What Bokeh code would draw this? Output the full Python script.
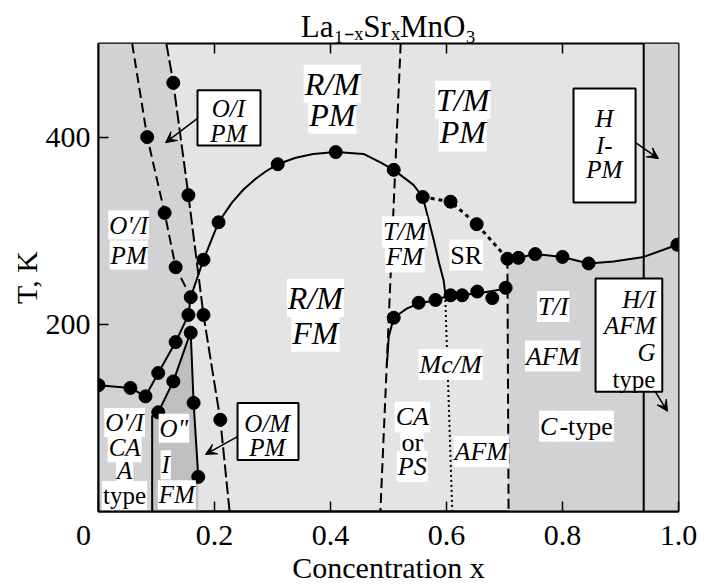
import numpy as np
from bokeh.plotting import figure
from bokeh.models import Range1d, FixedTicker, Label, BoxAnnotation, Arrow, VeeHead
from bokeh.embed import file_html
from bokeh.resources import INLINE

SERIF = "Liberation Serif"

# ---- measured transition points (x = Sr content, T in K) ----
tc_x = [0.0, 0.055, 0.081, 0.103, 0.133, 0.155, 0.159, 0.181, 0.207, 0.309, 0.409, 0.509, 0.559]
tc_T = [135, 132, 123, 148, 181, 210, 229, 269, 309, 371, 384, 365, 336]
o2_pts_x = [0.103, 0.129, 0.159, 0.164, 0.172]
o2_pts_T = [106, 139, 191, 116, 37]
jt_pts_x = [0.084, 0.114, 0.133]
jt_pts_T = [400, 319, 261]
oo_pts_x = [0.129, 0.155, 0.181, 0.210]
oo_pts_T = [458, 338, 210, 98]
sr_pts_x = [0.607, 0.652, 0.705]
sr_pts_T = [331, 307, 270]
tn_pts_x = [0.724, 0.753, 0.800, 0.845, 0.998]
tn_pts_T = [271, 275, 272, 265, 285]
afm_pts_x = [0.509, 0.552, 0.581, 0.607, 0.627, 0.653, 0.679, 0.702]
afm_pts_T = [207, 223, 226, 231, 231, 235, 228, 239]

# ---- phase boundary lines ----
tc_line_x = [0.0, 0.055, 0.081, 0.103, 0.133, 0.155, 0.159, 0.181, 0.207, 0.23, 0.25, 0.27, 0.29,
             0.309, 0.34, 0.37, 0.409, 0.457, 0.486, 0.509, 0.543, 0.559, 0.567, 0.578, 0.587,
             0.595, 0.598]
tc_line_T = [135, 132, 123, 148, 181, 210, 229, 269, 309, 330, 344, 355, 364,
             371, 378, 382, 384, 382, 373, 365, 349, 336, 317, 290, 266,
             247, 233]
o2_line_x = [0.0925, 0.0925, 0.103, 0.129, 0.155, 0.159]
o2_line_T = [0, 102, 106, 139, 185, 191]
o2_edge_x = [0.159, 0.164, 0.172]
o2_edge_T = [191, 116, 37]
jt_line_x = [0.058, 0.084, 0.114, 0.133, 0.159]
jt_line_T = [500, 400, 319, 261, 229]
oo_line_x = [0.117, 0.129, 0.155, 0.181, 0.210, 0.226]
oo_line_T = [500, 458, 338, 210, 98, 0]
rt_line_x = [0.521, 0.486]
rt_line_T = [500, 0]
sr_line_x = [0.559, 0.607, 0.652, 0.705]
sr_line_T = [336, 331, 307, 270]
tn_line_x = [0.705, 0.724, 0.753, 0.800, 0.845, 0.888, 0.94, 0.998]
tn_line_T = [270, 271, 275, 272, 265, 267, 272, 285]
afm_line_x = [0.497, 0.5005, 0.509, 0.532, 0.552, 0.581, 0.601, 0.653, 0.702]
afm_line_T = [155, 187, 207, 217, 222, 226, 230, 233, 238]
mc_line_x = [0.598, 0.610]
mc_line_T = [226, 0]
ct_line_x = [0.705, 0.707]
ct_line_T = [270, 0]
hex_line_x = [0.94, 0.94]
hex_line_T = [0, 500]

# ---- shaded (insulating) regions ----
left_band_x = [0.0, 0.0, 0.117, 0.129, 0.155, 0.172, 0.159, 0.159, 0.164, 0.172, 0.172]
left_band_T = [0, 500, 500, 458, 338, 252, 229, 191, 116, 37, 0]
o2_band_x = [0.0925, 0.0925, 0.103, 0.129, 0.155, 0.159, 0.164, 0.172, 0.172]
o2_band_T = [0, 102, 106, 139, 185, 191, 116, 37, 0]
right_band_x = [0.705, 0.724, 0.753, 0.800, 0.845, 0.888, 0.94, 0.94, 1.0, 1.0, 0.707]
right_band_T = [270, 271, 275, 272, 265, 267, 272, 500, 500, 0, 0]

x_ticks = [0, 0.2, 0.4, 0.6, 0.8, 1.0]
x_tick_labels = ["0\u00a0\u00a0\u00a0\u00a0", "0.2", "0.4", "0.6", "0.8", "1.0"]
y_ticks = [200, 400]
X_MAX, T_MAX = 1.0, 500

LIGHT = "#e4e4e4"
MID = "#d2d2d4"
DARK = "#bfbfc1"

p = figure(width=704, height=586, x_range=Range1d(0, X_MAX), y_range=Range1d(0, T_MAX),
           output_backend="svg", toolbar_location=None,
           min_border_left=98, min_border_right=26, min_border_top=43, min_border_bottom=74)
p.background_fill_color = LIGHT
p.border_fill_color = "white"
p.outline_line_color = "black"
p.outline_line_width = 2
p.xgrid.visible = False
p.ygrid.visible = False

p.title.text = "La\u2081\u208b\u2093Sr\u2093MnO\u2083"
p.title.text_font = SERIF
p.title.text_font_size = "31px"
p.title.text_font_style = "normal"
p.title.text_color = "black"
p.title.align = "center"
p.title.standoff = 0

# filled regions
p.patch(left_band_x, left_band_T, fill_color=MID, line_color=None)
p.patch(o2_band_x, o2_band_T, fill_color=DARK, line_color=None)
p.patch(right_band_x, right_band_T, fill_color=MID, line_color=None)

# boundary lines
lw = 2
p.line(tc_line_x, tc_line_T, line_color="black", line_width=lw)
p.line(o2_line_x, o2_line_T, line_color="black", line_width=lw)
p.line(o2_edge_x, o2_edge_T, line_color="black", line_width=lw)
p.line(jt_line_x, jt_line_T, line_color="black", line_width=lw, line_dash="10 5")
p.line(oo_line_x, oo_line_T, line_color="black", line_width=lw, line_dash="13 4")
p.line(rt_line_x, rt_line_T, line_color="black", line_width=lw, line_dash="10 5")
p.line(sr_line_x, sr_line_T, line_color="black", line_width=3, line_dash="4 4")
p.line(tn_line_x, tn_line_T, line_color="black", line_width=lw)
p.line(afm_line_x, afm_line_T, line_color="black", line_width=lw)
p.line(mc_line_x, mc_line_T, line_color="black", line_width=lw, line_dash="2 3")
p.line(ct_line_x, ct_line_T, line_color="black", line_width=lw, line_dash="10 5")
p.line(hex_line_x, hex_line_T, line_color="black", line_width=lw)

# inward tick marks along the top edge
top_ticks = x_ticks[1:-1]
tick_len_T = 10 * T_MAX / 469
p.segment(x0=top_ticks, y0=[T_MAX] * len(top_ticks), x1=top_ticks,
          y1=[T_MAX - tick_len_T] * len(top_ticks), line_color="black", line_width=1.5)

# data points
for xs, ts in [(tc_x, tc_T), (o2_pts_x, o2_pts_T), (jt_pts_x, jt_pts_T), (oo_pts_x, oo_pts_T),
               (sr_pts_x, sr_pts_T), (tn_pts_x, tn_pts_T), (afm_pts_x, afm_pts_T)]:
    p.scatter(xs, ts, size=13, color="black")

# axes
p.xaxis.ticker = FixedTicker(ticks=x_ticks)
p.xaxis.major_label_overrides = {t: s for t, s in zip(x_ticks, x_tick_labels)}
p.yaxis.ticker = FixedTicker(ticks=y_ticks)
p.xaxis.axis_label = "Concentration x"
p.yaxis.axis_label = "T, K"
for ax in (p.xaxis[0], p.yaxis[0]):
    ax.major_label_text_font = SERIF
    ax.major_label_text_font_size = "30px"
    ax.major_label_text_color = "black"
    ax.major_tick_in = 10
    ax.major_tick_out = 0
    ax.minor_tick_in = 0
    ax.minor_tick_out = 0
    ax.major_tick_line_width = 1.5
    ax.axis_line_width = 2
    ax.major_label_standoff = 6
    ax.axis_label_text_font = SERIF
    ax.axis_label_text_font_size = "30px"
    ax.axis_label_text_font_style = "normal"
    ax.axis_label_text_color = "black"
    ax.axis_label_standoff = -3
p.yaxis.major_label_standoff = 8
p.yaxis.axis_label_standoff = 0


def lab(x, y, text, size, italic=True, align="center", bg=True):
    p.add_layout(Label(x=x, y=y, text=text, text_font=SERIF, text_font_size=f"{size}px",
                       text_font_style="italic" if italic else "normal", text_color="black",
                       text_align=align, text_baseline="middle",
                       background_fill_color="white" if bg else None, padding=1))


def box(left, right, top_, bottom):
    p.add_layout(BoxAnnotation(left=left, right=right, top=top_, bottom=bottom,
                               fill_color="white", fill_alpha=1.0, line_color="black",
                               line_width=2, line_alpha=1.0))


# phase labels
lab(0.403, 457, "R/M", 32); lab(0.403, 424, "PM", 32)
lab(0.628, 440, "T/M", 32); lab(0.628, 405, "PM", 32)
lab(0.374, 228, "R/M", 32); lab(0.374, 191, "FM", 32)
lab(0.528, 299, "T/M", 26); lab(0.528, 272, "FM", 26)
lab(0.634, 274, "SR", 26, italic=False)
lab(0.607, 157, "Mc/M", 26)
lab(0.541, 101, "CA", 26); lab(0.541, 74, "or", 26, italic=False); lab(0.541, 48, "PS", 26)
lab(0.660, 64, "AFM", 26)
lab(0.784, 219, "T/I", 26)
lab(0.783, 166, "AFM", 26)
lab(0.793, 91, "C", 26, align="right"); lab(0.793, 91, "-type", 26, italic=False, align="left")

lab(0.052, 306, "O'/I", 25); lab(0.052, 274, "PM", 25)
lab(0.045, 95, "O'/I", 25); lab(0.045, 68, "CA", 25); lab(0.045, 44, "A", 25)
lab(0.045, 17, "type", 25, italic=False)
lab(0.130, 89, 'O"', 25); lab(0.116, 50, "I", 25); lab(0.135, 18, "FM", 25)

# boxed labels with pointers
box(0.1707, 0.2793, 450, 391)
lab(0.224, 431, "O/I", 25, bg=False); lab(0.224, 404, "PM", 25, bg=False)
box(0.2397, 0.3448, 116, 55)
lab(0.291, 94, "O/M", 25, bg=False); lab(0.291, 68, "PM", 25, bg=False)
box(0.819, 0.926, 452, 330)
lab(0.872, 420, "H", 25, bg=False); lab(0.872, 391, "I-", 25, bg=False)
lab(0.872, 365, "PM", 25, bg=False)
box(0.857, 0.972, 249, 128)
lab(0.962, 226, "H/I", 25, align="right", bg=False)
lab(0.962, 199, "AFM", 25, align="right", bg=False)
lab(0.962, 170, "G", 25, align="right", bg=False)
lab(0.962, 141, "type", 25, italic=False, align="right", bg=False)

for (xs, ys, xe, ye) in [(0.1707, 420, 0.1155, 394), (0.2397, 80, 0.1845, 61),
                         (0.926, 394, 0.9655, 377), (0.960, 128, 0.981, 107)]:
    p.add_layout(Arrow(x_start=xs, y_start=ys, x_end=xe, y_end=ye, line_width=1.5,
                       end=VeeHead(size=11, fill_color="black", line_color="black")))

open("out.html", "w").write(file_html(p, INLINE))
